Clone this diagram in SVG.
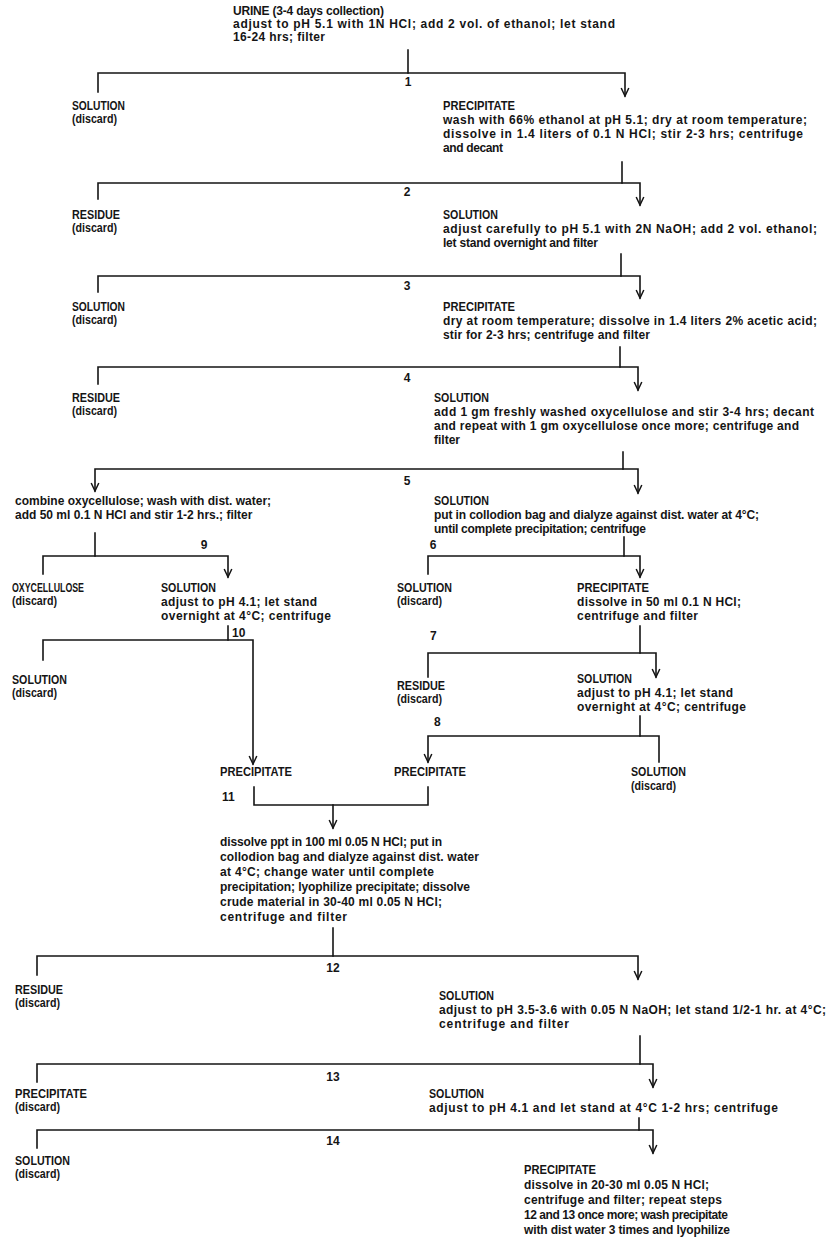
<svg xmlns="http://www.w3.org/2000/svg" width="831" height="1245" viewBox="0 0 831 1245">
<defs>
<style>
text{font-family:"Liberation Sans",Arial,sans-serif;font-size:12px;font-weight:bold;fill:#151515}
.c{font-size:12px}
.n{font-size:12px}
.ln{fill:none;stroke:#151515;stroke-width:1.6;stroke-linecap:square}
.ar{marker-end:url(#ah)}
.ars{marker-start:url(#ah)}
</style>
<marker id="ah" markerUnits="userSpaceOnUse" markerWidth="20" markerHeight="20" refX="0" refY="0" orient="auto-start-reverse" style="overflow:visible">
<path d="M-8,-3.8L0,0L-8,3.8" fill="none" stroke="#151515" stroke-width="1.5"/>
</marker>
</defs>
<rect width="831" height="1245" fill="#fff"/>

<g id="connectors">
<path class="ln" d="M408,50V73"/>
<path class="ln ar" d="M98,92V73H625V96"/>
<path class="ln" d="M622,162V183"/>
<path class="ln ar" d="M98,199V183H640V205"/>
<path class="ln" d="M621,254V276"/>
<path class="ln ar" d="M98,292V276H640V298"/>
<path class="ln" d="M620,347V367"/>
<path class="ln ar" d="M98,384V367H638V390"/>
<path class="ln" d="M623,452V469"/>
<path class="ln ar ars" d="M95,491V469H638V493"/>
<path class="ln" d="M95,533V556"/>
<path class="ln ar" d="M43,574V556H228V577"/>
<path class="ln" d="M624,537V556"/>
<path class="ln ar" d="M428,574V556H640V577"/>
<path class="ln" d="M228,626V640"/>
<path class="ln ar" d="M43,660V640H253V764"/>
<path class="ln" d="M640,626V653"/>
<path class="ln ar" d="M428,677V653H656V677"/>
<path class="ln" d="M640,716V736"/>
<path class="ln ars" d="M428,762V736H659V762"/>
<path class="ln" d="M254,787V805H428V787"/>
<path class="ln ar" d="M333,805V828"/>
<path class="ln" d="M333,928V956"/>
<path class="ln ar" d="M37,975V956H638V979"/>
<path class="ln" d="M640,1036V1064"/>
<path class="ln ar" d="M37,1082V1064H653V1087"/>
<path class="ln" d="M639,1118V1130"/>
<path class="ln ar" d="M37,1148V1130H653V1153"/>
</g>

<g id="step-labels" class="n">
<text x="408" y="86" text-anchor="middle">1</text>
<text x="407" y="196" text-anchor="middle">2</text>
<text x="407" y="290" text-anchor="middle">3</text>
<text x="407" y="382" text-anchor="middle">4</text>
<text x="407" y="485" text-anchor="middle">5</text>
<text x="204" y="549" text-anchor="middle">9</text>
<text x="433" y="549" text-anchor="middle">6</text>
<text x="232" y="637">10</text>
<text x="430" y="640">7</text>
<text x="434" y="726">8</text>
<text x="222" y="801">11</text>
<text x="333" y="972" text-anchor="middle">12</text>
<text x="333" y="1081" text-anchor="middle">13</text>
<text x="333" y="1145" text-anchor="middle">14</text>
</g>

<g id="n-urine">
<text x="233" y="15" textLength="151" lengthAdjust="spacing">URINE (3-4 days collection)</text>
<text x="233" y="28" textLength="382" lengthAdjust="spacing">adjust to pH 5.1 with 1N HCl; add 2 vol. of ethanol; let stand</text>
<text x="233" y="41" textLength="92" lengthAdjust="spacing">16-24 hrs; filter</text>
</g>

<g id="n1-solution">
<text class="c" x="72" y="110" textLength="53" lengthAdjust="spacingAndGlyphs">SOLUTION</text>
<text x="72" y="123" textLength="45" lengthAdjust="spacingAndGlyphs">(discard)</text>
</g>
<g id="n1-precipitate">
<text class="c" x="443" y="110" textLength="72" lengthAdjust="spacingAndGlyphs">PRECIPITATE</text>
<text x="443" y="124" textLength="364" lengthAdjust="spacing">wash with 66% ethanol at pH 5.1; dry at room temperature;</text>
<text x="443" y="138" textLength="360" lengthAdjust="spacing">dissolve in 1.4 liters of 0.1 N HCl; stir 2-3 hrs; centrifuge</text>
<text x="443" y="152" textLength="60" lengthAdjust="spacing">and decant</text>
</g>

<g id="n2-residue">
<text class="c" x="72" y="219" textLength="48" lengthAdjust="spacingAndGlyphs">RESIDUE</text>
<text x="72" y="232" textLength="45" lengthAdjust="spacingAndGlyphs">(discard)</text>
</g>
<g id="n2-solution">
<text class="c" x="443" y="219" textLength="55" lengthAdjust="spacingAndGlyphs">SOLUTION</text>
<text x="443" y="233" textLength="374" lengthAdjust="spacing">adjust carefully to pH 5.1 with 2N NaOH; add 2 vol. ethanol;</text>
<text x="443" y="247" textLength="155" lengthAdjust="spacing">let stand overnight and filter</text>
</g>

<g id="n3-solution">
<text class="c" x="72" y="311" textLength="53" lengthAdjust="spacingAndGlyphs">SOLUTION</text>
<text x="72" y="324" textLength="45" lengthAdjust="spacingAndGlyphs">(discard)</text>
</g>
<g id="n3-precipitate">
<text class="c" x="443" y="311" textLength="72" lengthAdjust="spacingAndGlyphs">PRECIPITATE</text>
<text x="443" y="325" textLength="374" lengthAdjust="spacing">dry at room temperature; dissolve in 1.4 liters 2% acetic acid;</text>
<text x="443" y="339" textLength="207" lengthAdjust="spacing">stir for 2-3 hrs; centrifuge and filter</text>
</g>

<g id="n4-residue">
<text class="c" x="72" y="402" textLength="48" lengthAdjust="spacingAndGlyphs">RESIDUE</text>
<text x="72" y="415" textLength="45" lengthAdjust="spacingAndGlyphs">(discard)</text>
</g>
<g id="n4-solution">
<text class="c" x="434" y="402" textLength="55" lengthAdjust="spacingAndGlyphs">SOLUTION</text>
<text x="434" y="416" textLength="380" lengthAdjust="spacing">add 1 gm freshly washed oxycellulose and stir 3-4 hrs; decant</text>
<text x="434" y="430" textLength="365" lengthAdjust="spacing">and repeat with 1 gm oxycellulose once more; centrifuge and</text>
<text x="434" y="444">filter</text>
</g>

<g id="n5-oxycellulose">
<text x="15" y="505">combine oxycellulose; wash with dist. water;</text>
<text x="15" y="519">add 50 ml 0.1 N HCl and stir 1-2 hrs.; filter</text>
</g>
<g id="n5-solution">
<text class="c" x="434" y="505" textLength="55" lengthAdjust="spacingAndGlyphs">SOLUTION</text>
<text x="434" y="519" textLength="325" lengthAdjust="spacing">put in collodion bag and dialyze against dist. water at 4°C;</text>
<text x="434" y="533" textLength="212" lengthAdjust="spacing">until complete precipitation; centrifuge</text>
</g>

<g id="n9-oxycellulose">
<text class="c" x="12" y="592" textLength="72" lengthAdjust="spacingAndGlyphs">OXYCELLULOSE</text>
<text x="12" y="605" textLength="45" lengthAdjust="spacingAndGlyphs">(discard)</text>
</g>
<g id="n9-solution">
<text class="c" x="161" y="592" textLength="55" lengthAdjust="spacingAndGlyphs">SOLUTION</text>
<text x="161" y="606" textLength="156" lengthAdjust="spacing">adjust to pH 4.1; let stand</text>
<text x="161" y="620" textLength="170" lengthAdjust="spacing">overnight at 4°C; centrifuge</text>
</g>

<g id="n6-solution">
<text class="c" x="397" y="592" textLength="55" lengthAdjust="spacingAndGlyphs">SOLUTION</text>
<text x="397" y="605" textLength="45" lengthAdjust="spacingAndGlyphs">(discard)</text>
</g>
<g id="n6-precipitate">
<text class="c" x="577" y="592" textLength="72" lengthAdjust="spacingAndGlyphs">PRECIPITATE</text>
<text x="577" y="606" textLength="164" lengthAdjust="spacing">dissolve in 50 ml 0.1 N HCl;</text>
<text x="577" y="620" textLength="121" lengthAdjust="spacing">centrifuge and filter</text>
</g>

<g id="n10-solution">
<text class="c" x="12" y="684" textLength="55" lengthAdjust="spacingAndGlyphs">SOLUTION</text>
<text x="12" y="697" textLength="45" lengthAdjust="spacingAndGlyphs">(discard)</text>
</g>

<g id="n7-residue">
<text class="c" x="397" y="690" textLength="48" lengthAdjust="spacingAndGlyphs">RESIDUE</text>
<text x="397" y="703" textLength="45" lengthAdjust="spacingAndGlyphs">(discard)</text>
</g>
<g id="n7-solution">
<text class="c" x="577" y="683" textLength="55" lengthAdjust="spacingAndGlyphs">SOLUTION</text>
<text x="577" y="697" textLength="156" lengthAdjust="spacing">adjust to pH 4.1; let stand</text>
<text x="577" y="711" textLength="169" lengthAdjust="spacing">overnight at 4°C; centrifuge</text>
</g>

<g id="n10-precipitate">
<text class="c" x="220" y="776" textLength="72" lengthAdjust="spacingAndGlyphs">PRECIPITATE</text>
</g>
<g id="n8-precipitate">
<text class="c" x="394" y="776" textLength="72" lengthAdjust="spacingAndGlyphs">PRECIPITATE</text>
</g>
<g id="n8-solution">
<text class="c" x="631" y="776" textLength="55" lengthAdjust="spacingAndGlyphs">SOLUTION</text>
<text x="631" y="790" textLength="45" lengthAdjust="spacingAndGlyphs">(discard)</text>
</g>

<g id="n11-combined">
<text x="220" y="846" textLength="222" lengthAdjust="spacing">dissolve ppt in 100 ml 0.05 N HCl; put in</text>
<text x="220" y="861" textLength="259" lengthAdjust="spacing">collodion bag and dialyze against dist. water</text>
<text x="220" y="876" textLength="214" lengthAdjust="spacing">at 4°C; change water until complete</text>
<text x="220" y="891" textLength="250" lengthAdjust="spacing">precipitation; lyophilize precipitate; dissolve</text>
<text x="220" y="906" textLength="222" lengthAdjust="spacing">crude material in 30-40 ml 0.05 N HCl;</text>
<text x="220" y="921" textLength="127" lengthAdjust="spacing">centrifuge and filter</text>
</g>

<g id="n12-residue">
<text class="c" x="15" y="994" textLength="48" lengthAdjust="spacingAndGlyphs">RESIDUE</text>
<text x="15" y="1007" textLength="45" lengthAdjust="spacingAndGlyphs">(discard)</text>
</g>
<g id="n12-solution">
<text class="c" x="439" y="1000" textLength="55" lengthAdjust="spacingAndGlyphs">SOLUTION</text>
<text x="439" y="1014" textLength="387" lengthAdjust="spacing">adjust to pH 3.5-3.6 with 0.05 N NaOH; let stand 1/2-1 hr. at 4°C;</text>
<text x="439" y="1028" textLength="130" lengthAdjust="spacing">centrifuge and filter</text>
</g>

<g id="n13-precipitate">
<text class="c" x="15" y="1098" textLength="72" lengthAdjust="spacingAndGlyphs">PRECIPITATE</text>
<text x="15" y="1111" textLength="45" lengthAdjust="spacingAndGlyphs">(discard)</text>
</g>
<g id="n13-solution">
<text class="c" x="429" y="1098" textLength="55" lengthAdjust="spacingAndGlyphs">SOLUTION</text>
<text x="429" y="1112" textLength="349" lengthAdjust="spacing">adjust to pH 4.1 and let stand at 4°C 1-2 hrs; centrifuge</text>
</g>

<g id="n14-solution">
<text class="c" x="15" y="1165" textLength="55" lengthAdjust="spacingAndGlyphs">SOLUTION</text>
<text x="15" y="1178" textLength="45" lengthAdjust="spacingAndGlyphs">(discard)</text>
</g>
<g id="n14-precipitate">
<text class="c" x="524" y="1174" textLength="72" lengthAdjust="spacingAndGlyphs">PRECIPITATE</text>
<text x="524" y="1189" textLength="185" lengthAdjust="spacing">dissolve in 20-30 ml 0.05 N HCl;</text>
<text x="524" y="1204" textLength="198" lengthAdjust="spacing">centrifuge and filter; repeat steps</text>
<text x="524" y="1219" textLength="204" lengthAdjust="spacing">12 and 13 once more; wash precipitate</text>
<text x="524" y="1234" textLength="206" lengthAdjust="spacing">with dist water 3 times and lyophilize</text>
</g>
</svg>
